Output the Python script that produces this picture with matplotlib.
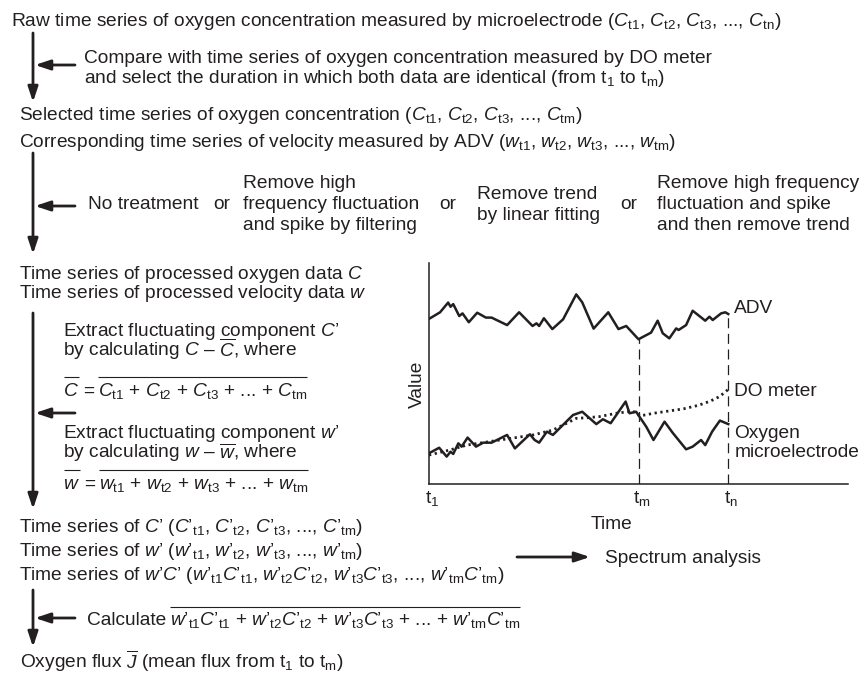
import matplotlib
matplotlib.use("Agg")
import matplotlib.pyplot as plt

plt.rcParams['font.family'] = 'Liberation Sans'
plt.rcParams['mathtext.fontset'] = 'custom'
plt.rcParams['mathtext.rm'] = 'Liberation Sans'
plt.rcParams['mathtext.it'] = 'Liberation Sans:italic'
plt.rcParams['mathtext.bf'] = 'Liberation Sans:bold'

ink = '#231f20'
fs = 13.8

# sketch of the time series in the inset (time in arbitrary units, t1=0, tm=7, tn=10)
adv_t = [0, 0.37, 0.64, 0.72, 0.81, 1.01, 1.12, 1.33, 1.61, 1.90, 2.09, 2.61, 3.01,
         3.46, 3.59, 3.68, 3.84, 4.12, 4.48, 4.92, 5.12, 5.50, 5.99, 6.33, 6.59, 7.0,
         7.42, 7.64, 7.81, 8.03, 8.26, 8.34, 8.59, 8.81, 9.23, 9.37, 9.48, 9.76, 9.90, 10.0]
adv_v = [7.47, 7.77, 8.21, 8.02, 8.14, 7.60, 7.72, 7.32, 7.75, 7.53, 7.53, 7.19, 7.77,
         7.15, 7.27, 7.15, 7.50, 7.01, 7.45, 8.58, 8.22, 7.03, 7.77, 7.01, 7.15, 6.55,
         6.85, 7.39, 6.82, 6.59, 7.04, 6.97, 7.19, 7.84, 7.39, 7.57, 7.42, 7.72, 7.77, 7.69]

micro_t = [0, 0.34, 0.59, 0.72, 0.81, 0.98, 1.09, 1.29, 1.57, 1.81, 2.09, 2.61, 2.87,
           3.37, 3.53, 3.68, 3.94, 4.14, 4.81, 5.12, 5.59, 5.81, 6.07, 6.57, 6.70, 6.92,
           7.26, 7.50, 7.87, 8.14, 8.59, 8.81, 9.09, 9.23, 9.46, 9.72, 10.0]
micro_v = [1.39, 1.64, 1.24, 1.46, 1.36, 1.84, 1.69, 2.10, 1.69, 1.87, 1.87, 2.22, 1.61,
           2.25, 1.99, 1.87, 2.37, 2.22, 3.12, 3.27, 2.71, 2.93, 2.75, 3.73, 3.20, 3.27,
           2.59, 1.99, 2.82, 2.32, 1.57, 1.69, 1.99, 1.76, 2.37, 2.87, 2.71]

do_t = [0, 0.70, 1.26, 2.37, 3.48, 4.14, 4.60, 4.92, 5.30, 5.70, 6.26, 6.81, 7.05,
        7.50, 8.00, 8.50, 9.00, 9.40, 9.70, 10.0]
do_v = [1.31, 1.54, 1.76, 1.99, 2.22, 2.44, 2.75, 2.97, 3.00, 3.05, 3.20, 3.30, 3.08,
        3.20, 3.30, 3.40, 3.56, 3.75, 3.95, 4.28]

t_m = 7.0
t_n = 10.0
tick_pos = [0, t_m, t_n]
tick_txt = ['t$_1$', 't$_\\mathrm{m}$', 't$_\\mathrm{n}$']


def ct(v, s):
    # e.g. C with subscript t1
    return '$%s_{\\mathrm{t%s}}$' % (v, s)


def ctp(v, s):
    # primed version, e.g. w' with subscript t1 (math body only)
    return '%s’_{\\mathrm{t%s}}' % (v, s)


def series(v, last):
    return ct(v, '1') + ', ' + ct(v, '2') + ', ' + ct(v, '3') + ', ..., ' + ct(v, last)


fig = plt.figure(figsize=(8.66, 6.75), dpi=100)
ax = fig.add_axes([0, 0, 1, 1])
ax.set_xlim(0, 866)
ax.set_ylim(675, 0)
ax.axis('off')


def say(x, y, s):
    return ax.text(x, y, s, fontsize=fs, color=ink, va='baseline', ha='left')


def arrow(x0, y0, x1, y1):
    ax.annotate('', xy=(x1, y1), xytext=(x0, y0),
                arrowprops=dict(arrowstyle='-|>,head_length=0.9,head_width=0.3',
                                lw=2, color=ink, shrinkA=0, shrinkB=0))


rend = fig.canvas.get_renderer()


def span(t):
    bb = t.get_window_extent(rend)
    a = ax.transData.inverted().transform([[bb.x0, bb.y0], [bb.x1, bb.y1]])
    return a[0][0], a[1][0]


def bar(x0, x1, y):
    ax.plot([x0, x1], [y, y], color=ink, lw=0.8, solid_capstyle='butt')


# block 1
say(11, 26, 'Raw time series of oxygen concentration measured by microelectrode ('
    + series('C', 'n') + ')')
arrow(33, 33, 33, 102)
arrow(75, 65, 35, 65)
say(84, 63, 'Compare with time series of oxygen concentration measured by DO meter')
say(84, 83, 'and select the duration in which both data are identical (from t$_1$ to t$_\\mathrm{m}$)')
say(19, 120, 'Selected time series of oxygen concentration (' + series('C', 'm') + ')')
say(19, 147, 'Corresponding time series of velocity measured by ADV (' + series('w', 'm') + ')')

# block 2: pre-treatment options
arrow(33, 153, 33, 254)
arrow(75, 206, 35, 206)
say(88, 209, 'No treatment')
say(213, 209, 'or')
say(243, 188, 'Remove high')
say(243, 209, 'frequency fluctuation')
say(243, 230, 'and spike by filtering')
say(439, 209, 'or')
say(477, 199, 'Remove trend')
say(477, 220, 'by linear fitting')
say(620, 209, 'or')
say(657, 188, 'Remove high frequency')
say(657, 209, 'fluctuation and spike')
say(657, 230, 'and then remove trend')

# block 3: fluctuating components
say(19, 279, 'Time series of processed oxygen data $C$')
say(19, 298, 'Time series of processed velocity data $w$')
arrow(33, 313, 33, 509)
arrow(75, 413, 35, 413)
say(63, 336, 'Extract fluctuating component $C’$')
say(63, 356, 'by calculating $C$ – $\\overline{C}$, where')
say(63, 438, 'Extract fluctuating component $w’$')
say(63, 458, 'by calculating $w$ – $\\overline{w}$, where')

for v, base in [('C', 396), ('w', 489)]:
    t1 = say(63, base, '$%s$' % v)
    a0, a1 = span(t1)
    bar(a0 + 1, a1, base - 19)
    t2 = say(a1 + 4, base, '=')
    b0, b1 = span(t2)
    t3 = say(b1 + 4, base, ct(v, '1') + ' + ' + ct(v, '2') + ' + ' + ct(v, '3')
             + ' + ... + ' + ct(v, 'm'))
    c0, c1 = span(t3)
    bar(c0, c1, base - 19)

# block 4: covariance
say(19, 532, 'Time series of $C’$ ($' + ctp('C', '1') + '$, $' + ctp('C', '2') + '$, $'
    + ctp('C', '3') + '$, ..., $' + ctp('C', 'm') + '$)')
say(19, 556, 'Time series of $w’$ ($' + ctp('w', '1') + '$, $' + ctp('w', '2') + '$, $'
    + ctp('w', '3') + '$, ..., $' + ctp('w', 'm') + '$)')
say(19, 580, 'Time series of $w’C’$ ($' + ctp('w', '1') + ctp('C', '1') + '$, $'
    + ctp('w', '2') + ctp('C', '2') + '$, $' + ctp('w', '3') + ctp('C', '3') + '$, ..., $'
    + ctp('w', 'm') + ctp('C', 'm') + '$)')
arrow(517, 557, 590, 557)
say(605, 563, 'Spectrum analysis')

arrow(33, 590, 33, 647)
arrow(75, 618, 35, 618)
tc = say(87, 625, 'Calculate')
_, k1 = span(tc)
flux = ('$' + ctp('w', '1') + ctp('C', '1') + '$ + $' + ctp('w', '2') + ctp('C', '2')
        + '$ + $' + ctp('w', '3') + ctp('C', '3') + '$ + ... + $'
        + ctp('w', 'm') + ctp('C', 'm') + '$')
tf = say(k1 + 4, 625, flux)
f0, f1 = span(tf)
bar(f0, f1, 607)
say(20, 668, 'Oxygen flux $\\overline{J}$ (mean flux from t$_1$ to t$_\\mathrm{m}$)')

# inset chart
ch = fig.add_axes([429 / 866, 1 - 484 / 675, 419 / 866, 221 / 675])
ch.set_xlim(0, 14)
ch.set_ylim(0, 10)
ch.patch.set_alpha(0)
ch.plot(adv_t, adv_v, color=ink, lw=1.8)
ch.plot(micro_t, micro_v, color=ink, lw=1.8)
ch.plot(do_t, do_v, color=ink, lw=2, linestyle=(0, (0.8, 1.3)))
ch.plot([t_m, t_m], [0, adv_v[adv_t.index(t_m)]], color=ink, lw=0.9, linestyle=(0, (8, 4.5)))
ch.plot([t_n, t_n], [0, adv_v[-1]], color=ink, lw=0.9, linestyle=(0, (8, 4.5)))
for s in ['top', 'right']:
    ch.spines[s].set_visible(False)
for s in ['left', 'bottom']:
    ch.spines[s].set_linewidth(1.1)
    ch.spines[s].set_color(ink)
ch.set_xticks([])
ch.set_yticks([])
for x, lab in zip(tick_pos, tick_txt):
    ch.text(x + 0.1, -0.86, lab, fontsize=fs, color=ink, ha='center', va='baseline')
ch.text(6.1, -2.04, 'Time', fontsize=fs, color=ink, ha='center', va='baseline')
ch.text(-0.38, 4.52, 'Value', fontsize=fs, color=ink, ha='center', va='center', rotation=90)
ch.text(10.2, 7.74, 'ADV', fontsize=fs, color=ink, va='baseline')
ch.text(10.2, 3.98, 'DO meter', fontsize=fs, color=ink, va='baseline')
ch.text(10.2, 2.08, 'Oxygen', fontsize=fs, color=ink, va='baseline')
ch.text(10.2, 1.24, 'microelectrode', fontsize=fs, color=ink, va='baseline')

fig.savefig('out.png', dpi=100)
